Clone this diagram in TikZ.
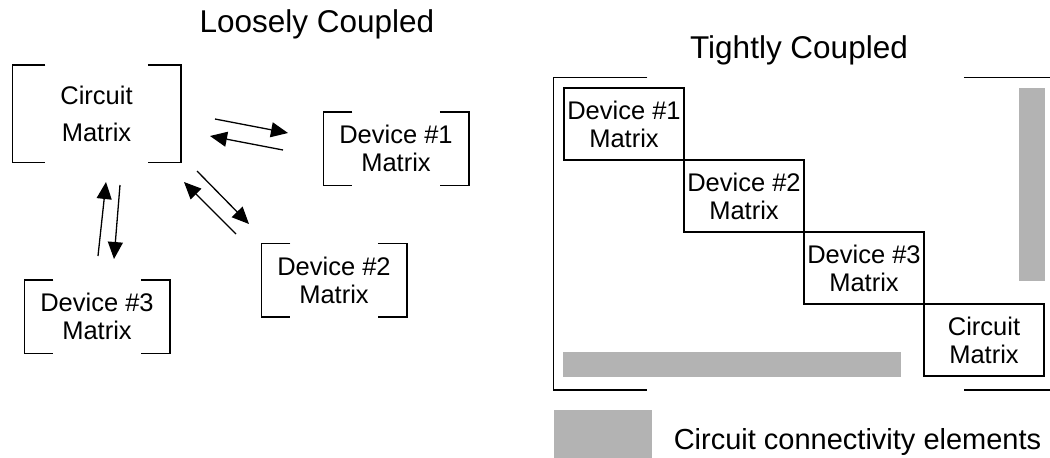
\documentclass[tikz,border=0pt]{standalone}
\usepackage{fontspec}
\setmainfont{Liberation Sans}
\usetikzlibrary{arrows.meta,calc}
\definecolor{connfill}{RGB}{179,179,179}
\newcommand\boxfont{\fontsize{25.5}{28}\selectfont}
% open brackets on the left and right sides of a node: #1 node name, #2 arm length
\newcommand\sidebrackets[2]{%
  \draw ($(#1.north west)+(#2,0)$) -- (#1.north west) -- (#1.south west) -- ($(#1.south west)+(#2,0)$);
  \draw ($(#1.north east)-(#2,0)$) -- (#1.north east) -- (#1.south east) -- ($(#1.south east)-(#2,0)$);}
\begin{document}
\begin{tikzpicture}[x=1pt,y=-1pt,line width=1.5pt,
  loosebox/.style={rectangle,inner sep=0pt,align=center,font=\boxfont,
    minimum width=144pt,minimum height=72pt},
  tightbox/.style={draw,rectangle,inner sep=0pt,align=center,font=\boxfont,
    minimum width=120pt,minimum height=72pt},
  link/.style={line width=1.3pt,-{Triangle[length=17pt,width=15pt]}},
  conn/.style={rectangle,fill=connfill,draw=none,inner sep=0pt},
  title/.style={font=\fontsize{31.5}{34}\selectfont,anchor=base,inner sep=0pt}]
\useasboundingbox (0,0) rectangle (1050,458);
\clip (0,0) rectangle (1050,458);

% ---------- loosely coupled ----------
\node[title] (tloose) at (317,32) {Loosely Coupled};

\node[loosebox,minimum width=167pt,minimum height=96pt,
      font={\fontsize{25.5}{37}\selectfont}] (cm) at (96.5,113.5) {Circuit\\Matrix};
\node[loosebox] (d1) at (396,148.5) {Device \#1\\Matrix};
\node[loosebox] (d2) at (334,280) {Device \#2\\Matrix};
\node[loosebox] (d3) at (97,316.5) {Device \#3\\Matrix};
\sidebrackets{cm}{33}
\sidebrackets{d1}{29}
\sidebrackets{d2}{29}
\sidebrackets{d3}{29}

% exchange arrows between the circuit matrix and each device
\coordinate (cm-d1-s) at (215,119);  \coordinate (cm-d1-e) at (288,133);
\coordinate (d1-cm-s) at (283,150);  \coordinate (d1-cm-e) at (210,136);
\coordinate (cm-d2-s) at (197,171);  \coordinate (cm-d2-e) at (249,224);
\coordinate (d2-cm-s) at (236,234);  \coordinate (d2-cm-e) at (184,182);
\coordinate (d3-cm-s) at (98,256);   \coordinate (d3-cm-e) at (106,182);
\coordinate (cm-d3-s) at (120,185);  \coordinate (cm-d3-e) at (114,259);
\draw[link] (cm-d1-s) -- (cm-d1-e);
\draw[link] (d1-cm-s) -- (d1-cm-e);
\draw[link] (cm-d2-s) -- (cm-d2-e);
\draw[link] (d2-cm-s) -- (d2-cm-e);
\draw[link] (d3-cm-s) -- (d3-cm-e);
\draw[link] (cm-d3-s) -- (cm-d3-e);

% ---------- tightly coupled ----------
\node[title] (ttight) at (799,58) {Tightly Coupled};

\node[rectangle,inner sep=0pt,minimum width=503pt,minimum height=311pt] (outer) at (805.5,233.5) {};
\sidebrackets{outer}{94}

\node[tightbox] (td1) at (624,124) {Device \#1\\Matrix};
\node[tightbox] (td2) at (744,196) {Device \#2\\Matrix};
\node[tightbox] (td3) at (864,268) {Device \#3\\Matrix};
\node[tightbox] (tcm) at (984,340) {Circuit\\Matrix};

% connectivity strips
\node[conn,minimum width=26pt,minimum height=193pt] (vstrip) at (1032,184.5) {};
\node[conn,minimum width=338pt,minimum height=25pt] (hstrip) at (732,364.5) {};

% legend
\node[conn,minimum width=98pt,minimum height=48pt] (lgbox) at (603,434) {};
\node[font=\fontsize{29}{32}\selectfont,anchor=base west,inner sep=0pt] (lgtext) at (673,449)
  {Circuit connectivity elements};
\end{tikzpicture}
\end{document}
